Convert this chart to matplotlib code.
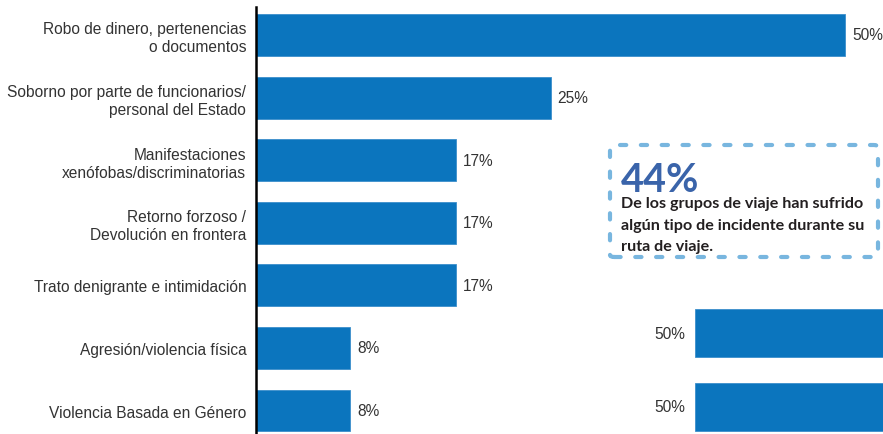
import matplotlib.pyplot as plt
from matplotlib.patches import FancyBboxPatch

# data
categorias = [
    "Robo de dinero, pertenencias\no documentos",
    "Soborno por parte de funcionarios/\npersonal del Estado",
    "Manifestaciones\nxenófobas/discriminatorias",
    "Retorno forzoso /\nDevolución en frontera",
    "Trato denigrante e intimidación",
    "Agresión/violencia física",
    "Violencia Basada en Género",
]
valores = [50, 25, 17, 17, 17, 8, 8]
valores_extra = [50, 50]
total_pct = "44%"
nota = "De los grupos de viaje han sufrido\nalgún tipo de incidente durante su\nruta de viaje."

azul = "#0B75BE"
gris = "#333333"

W, H = 883, 435
fig = plt.figure(figsize=(W / 100, H / 100), dpi=100)
plt.rcParams['font.family'] = ['Liberation Sans', 'DejaVu Sans']

# main chart
ax = fig.add_axes([256 / W, 0, (W - 256) / W, 1])
pos = list(range(len(valores)))
ax.barh(pos, valores, height=0.67, color=azul, edgecolor="#3C8FCB", linewidth=0.6)
ax.set_xlim(0, (W - 256) / 11.78)
ax.set_ylim(6.375, -0.575)
ax.set_yticks(pos)
ax.set_yticklabels(categorias, fontsize=11.2, color=gris, linespacing=1.25)
ax.tick_params(axis='y', length=0, pad=7)
ax.set_xticks([])
for s in ["top", "right", "bottom"]:
    ax.spines[s].set_visible(False)
ax.spines["left"].set_linewidth(1.8)
ax.spines["left"].set_bounds(6.375, -0.45)
for p, v in zip(pos, valores):
    ax.annotate(f"{v}%", (v, p), xytext=(5, 0), textcoords="offset points",
                va="center", ha="left", fontsize=11.2, color=gris,
                annotation_clip=False)

# second (cut-off) chart at the bottom right
ax2 = fig.add_axes([695 / W, 0, (W - 695) / W, 145 / H])
pos2 = list(range(len(valores_extra)))
ax2.barh(pos2, valores_extra, height=0.65, color=azul, edgecolor="#3C8FCB", linewidth=0.6)
ax2.set_xlim(0, 40)
ax2.set_ylim(1.365, -0.595)
ax2.axis("off")
for p, v in zip(pos2, valores_extra):
    ax2.annotate(f"{v}%", (0, p), xytext=(-7, 0), textcoords="offset points",
                 va="center", ha="right", fontsize=11.2, color=gris,
                 annotation_clip=False)

# highlight box
box = FancyBboxPatch((610 / W, 1 - 258 / H), 268 / W, 112 / H,
                     boxstyle="round,pad=0,rounding_size=0.005",
                     transform=fig.transFigure, fill=False,
                     edgecolor="#78B6DF", linewidth=3,
                     linestyle=(0, (1.5, 3.5)), capstyle="round")
fig.add_artist(box)
fig.text(621 / W, 1 - 192 / H, total_pct, fontsize=28.5, fontweight="bold",
         color="#3A64AA", family="Lato", va="baseline")
fig.text(621 / W, 1 - 197 / H, nota, fontsize=11.6, fontweight="bold",
         color="#231F20", family="Lato", va="top", linespacing=1.7)

fig.savefig("out.png", dpi=100)
